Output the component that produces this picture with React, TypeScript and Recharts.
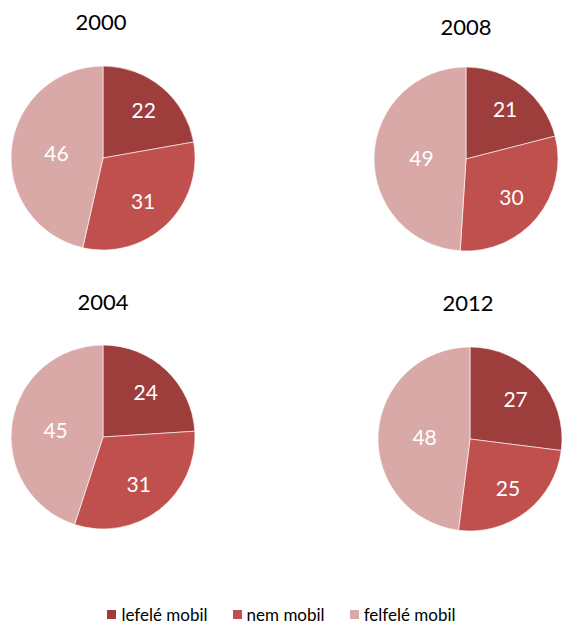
import { PieChart, Pie, Cell, Legend } from 'recharts';

const categories = ['lefelé mobil', 'nem mobil', 'felfelé mobil'];
const years = ['2000', '2008', '2004', '2012'];
const values2000 = [22, 31, 46];
const values2008 = [21, 30, 49];
const values2004 = [24, 31, 45];
const values2012 = [27, 25, 48];

const colors = ['#9D3E3C', '#C0504D', '#D9A9A8'];
const FONT = 'Lato, "Open Sans", sans-serif';

const series = [values2000, values2008, values2004, values2012].map((vals) =>
    categories.map((name, i) => ({ name, value: vals[i] }))
);

// pie centres and title spots, same order as years
const layout = [
    { cx: 103, cy: 158, tx: 101, ty: 22 },
    { cx: 466, cy: 159, tx: 466, ty: 27 },
    { cx: 103, cy: 437, tx: 103, ty: 302 },
    { cx: 470, cy: 439, tx: 468, ty: 303 },
];

const RAD = Math.PI / 180;

const renderLabel = (props: any) => {
    const { cx, cy, midAngle, outerRadius, percent, value } = props;
    // roughly the sector centroid, pushed out a bit
    const a = Math.max(percent * Math.PI, 0.01);
    const d = ((2 * outerRadius * Math.sin(a)) / (3 * a)) * 1.12;
    const x = cx + d * Math.cos(-midAngle * RAD);
    const y = cy + d * Math.sin(-midAngle * RAD);
    return (
        <text x={x} y={y} fill="#fff" fontSize={21} fontFamily={FONT} textAnchor="middle" dominantBaseline="central">
            {value}
        </text>
    );
};

const renderLegend = () => (
    <div style={{ display: 'flex', justifyContent: 'center', gap: 25, fontFamily: FONT, fontSize: 17, color: '#000' }}>
        {categories.map((c, i) => (
            <div key={c} style={{ display: 'flex', alignItems: 'center' }}>
                <span style={{ width: 9, height: 9, background: colors[i], display: 'inline-block', marginRight: 5 }} />
                <span>{c}</span>
            </div>
        ))}
    </div>
);

export default function App() {
    return (
        <div style={{ position: 'absolute', left: 0, top: 0, width: 563, height: 624, background: '#fff' }}>
            <PieChart width={563} height={624} margin={{ top: 0, right: 0, bottom: 0, left: 0 }}>
                {series.map((data, k) => (
                    <Pie
                        key={years[k]}
                        data={data}
                        dataKey="value"
                        nameKey="name"
                        cx={layout[k].cx}
                        cy={layout[k].cy}
                        outerRadius={92}
                        startAngle={90}
                        endAngle={-270}
                        stroke="#fff"
                        strokeWidth={0.6}
                        label={renderLabel}
                        labelLine={false}
                        isAnimationActive={false}
                    >
                        {data.map((d, i) => (
                            <Cell key={d.name} fill={colors[i]} />
                        ))}
                    </Pie>
                ))}
                <Legend
                    content={renderLegend}
                    wrapperStyle={{ position: 'absolute', top: 604, left: 0, width: 563 }}
                />
            </PieChart>
            {years.map((y, k) => (
                <div
                    key={y}
                    style={{
                        position: 'absolute',
                        left: layout[k].tx - 40,
                        top: layout[k].ty - 14,
                        width: 80,
                        textAlign: 'center',
                        fontFamily: FONT,
                        fontSize: 22,
                        lineHeight: '28px',
                        color: '#000',
                    }}
                >
                    {y}
                </div>
            ))}
        </div>
    );
}
